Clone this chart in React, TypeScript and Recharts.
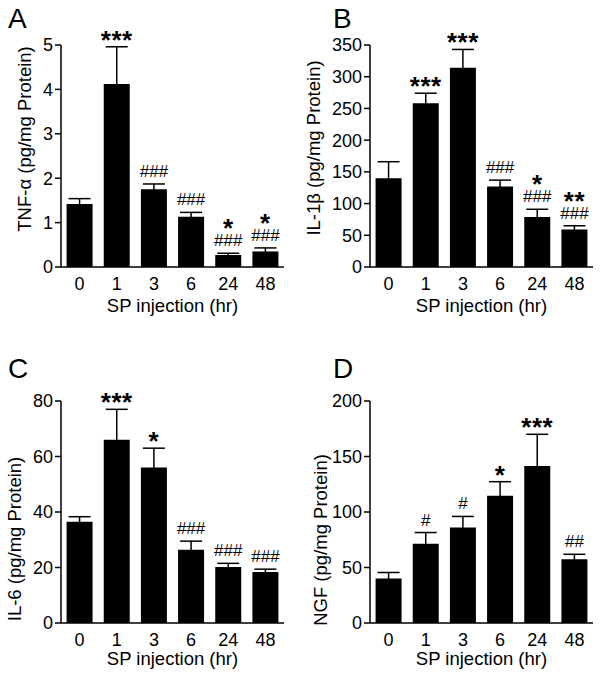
import React from 'react';
import { BarChart, Bar, XAxis, YAxis, ErrorBar, LabelList } from 'recharts';

const FONT = 'Arial, "Liberation Sans", sans-serif';

const hours = ['0', '1', '3', '6', '24', '48'];

const tnfMean = [1.42, 4.12, 1.75, 1.13, 0.27, 0.35];
const tnfSem = [0.12, 0.84, 0.12, 0.1, 0.04, 0.08];
const tnfStars = ['', '***', '', '', '*', '*'];
const tnfHash = ['', '', '###', '###', '###', '###'];

const il1bMean = [140, 258, 314, 127, 79, 59];
const il1bSem = [26, 16, 29, 10, 12, 6];
const il1bStars = ['', '***', '***', '', '*', '**'];
const il1bHash = ['', '', '', '###', '###', '###'];

const il6Mean = [36.5, 66, 56, 26.4, 20.2, 18.4];
const il6Sem = [1.8, 11, 7, 3.1, 1.3, 1];
const il6Stars = ['', '***', '*', '', '', ''];
const il6Hash = ['', '', '', '###', '###', '###'];

const ngfMean = [40, 71.5, 86, 114.7, 141.4, 57.4];
const ngfSem = [5.5, 10, 10, 12.6, 28.6, 4.5];
const ngfStars = ['', '', '', '*', '***', ''];
const ngfHash = ['', '#', '#', '', '', '##'];

const tnfTicks = [0, 1, 2, 3, 4, 5];
const il1bTicks = [0, 50, 100, 150, 200, 250, 300, 350];
const il6Ticks = [0, 20, 40, 60, 80];
const ngfTicks = [0, 50, 100, 150, 200];

const build = (mean: number[], sem: number[]) =>
  hours.map((h, i) => ({ hour: h, mean: mean[i], sem: sem[i] }));

interface PanelProps {
  letter: string;
  yLabel: string;
  mean: number[];
  sem: number[];
  stars: string[];
  hashes: string[];
  ticks: number[];
  left: number;
  top: number;
  height: number;
  yAxisWidth: number;
  marginTop: number;
  marginRight: number;
  xAxisHeight: number;
  letterX: number;
  letterY: number;
  labelX: number;
  labelY: number;
  xLabelOffset: number;
}

const Panel: React.FC<PanelProps> = (p) => {
  const data = build(p.mean, p.sem);

  // significance marks sit above the error bar; stars over hashes in one text
  const renderAnno = (props: any) => {
    const { x, y, width, height, index } = props;
    const perUnit = height / p.mean[index];
    const errTop = y - p.sem[index] * perUnit;
    const cx = x + width / 2;
    const star = p.stars[index];
    const hash = p.hashes[index];
    if (!star && !hash) return null;
    const hashBase = errTop - 7;
    const starBase = hash ? hashBase - 9 : errTop + 2;
    return (
      <text key={`a-${index}`} x={cx} y={star ? starBase : hashBase} textAnchor="middle" fontFamily={FONT} fill="#000">
        {star && (
          <tspan x={cx} fontSize={26} fontWeight="bold" letterSpacing={0.5}>
            {star}
          </tspan>
        )}
        {hash && (
          <tspan x={cx} dy={star ? 9 : 0} fontSize={17}>
            {hash}
          </tspan>
        )}
      </text>
    );
  };

  const renderYLabel = () => (
    <g>
      <text x={p.letterX} y={p.letterY} fontSize={28} fontFamily={FONT} fill="#000">
        {p.letter}
      </text>
      <text
        x={p.labelX}
        y={p.labelY}
        transform={`rotate(-90, ${p.labelX}, ${p.labelY})`}
        textAnchor="middle"
        fontSize={18.5}
        fontFamily={FONT}
        fill="#000"
      >
        {p.yLabel}
      </text>
    </g>
  );

  const renderXLabel = (props: any) => {
    const { x, y, width } = props.viewBox;
    return (
      <text x={x + width / 2} y={y + p.xLabelOffset} textAnchor="middle" fontSize={18.5} fontFamily={FONT} fill="#000">
        SP injection (hr)
      </text>
    );
  };

  return (
    <div style={{ position: 'absolute', left: p.left, top: p.top }}>
      <BarChart
        width={300}
        height={p.height}
        data={data}
        margin={{ top: p.marginTop, right: p.marginRight, left: 0, bottom: 0 }}
        barCategoryGap="15%"
      >
        <XAxis
          dataKey="hour"
          height={p.xAxisHeight}
          tickLine={false}
          tickSize={6}
          tickMargin={4}
          axisLine={{ stroke: '#000', strokeWidth: 1.5 }}
          tick={{ fontSize: 18, fill: '#000', fontFamily: FONT }}
          label={{ content: renderXLabel }}
        />
        <YAxis
          width={p.yAxisWidth}
          domain={[0, p.ticks[p.ticks.length - 1]]}
          ticks={p.ticks}
          interval={0}
          tickSize={6}
          tickMargin={2}
          axisLine={{ stroke: '#000', strokeWidth: 1.5 }}
          tickLine={{ stroke: '#000', strokeWidth: 1.5 }}
          tick={{ fontSize: 18, fill: '#000', fontFamily: FONT }}
          label={{ content: renderYLabel }}
        />
        <Bar dataKey="mean" fill="#000" isAnimationActive={false}>
          <ErrorBar dataKey="sem" direction="y" width={11} stroke="#000" strokeWidth={1.5} />
          <LabelList dataKey="mean" content={renderAnno} />
        </Bar>
      </BarChart>
    </div>
  );
};

export default function App() {
  return (
    <div style={{ position: 'absolute', left: 0, top: 0, width: 600, height: 674, background: '#fff', fontFamily: FONT }}>
      <Panel
        letter="A"
        yLabel="TNF-α (pg/mg Protein)"
        mean={tnfMean}
        sem={tnfSem}
        stars={tnfStars}
        hashes={tnfHash}
        ticks={tnfTicks}
        left={0}
        top={0}
        height={320}
        yAxisWidth={61}
        marginTop={45}
        marginRight={16}
        xAxisHeight={53}
        letterX={8}
        letterY={28}
        labelX={31}
        labelY={139}
        xLabelOffset={45}
      />
      <Panel
        letter="B"
        yLabel="IL-1β (pg/mg Protein)"
        mean={il1bMean}
        sem={il1bSem}
        stars={il1bStars}
        hashes={il1bHash}
        ticks={il1bTicks}
        left={300}
        top={0}
        height={320}
        yAxisWidth={70}
        marginTop={45}
        marginRight={7}
        xAxisHeight={53}
        letterX={33}
        letterY={28}
        labelX={20}
        labelY={148}
        xLabelOffset={45}
      />
      <Panel
        letter="C"
        yLabel="IL-6 (pg/mg Protein)"
        mean={il6Mean}
        sem={il6Sem}
        stars={il6Stars}
        hashes={il6Hash}
        ticks={il6Ticks}
        left={0}
        top={320}
        height={354}
        yAxisWidth={61}
        marginTop={81}
        marginRight={16}
        xAxisHeight={51}
        letterX={8}
        letterY={58}
        labelX={21}
        labelY={219}
        xLabelOffset={42}
      />
      <Panel
        letter="D"
        yLabel="NGF (pg/mg Protein)"
        mean={ngfMean}
        sem={ngfSem}
        stars={ngfStars}
        hashes={ngfHash}
        ticks={ngfTicks}
        left={300}
        top={320}
        height={354}
        yAxisWidth={70}
        marginTop={81}
        marginRight={7}
        xAxisHeight={51}
        letterX={33}
        letterY={58}
        labelX={27}
        labelY={220}
        xLabelOffset={42}
      />
    </div>
  );
}
